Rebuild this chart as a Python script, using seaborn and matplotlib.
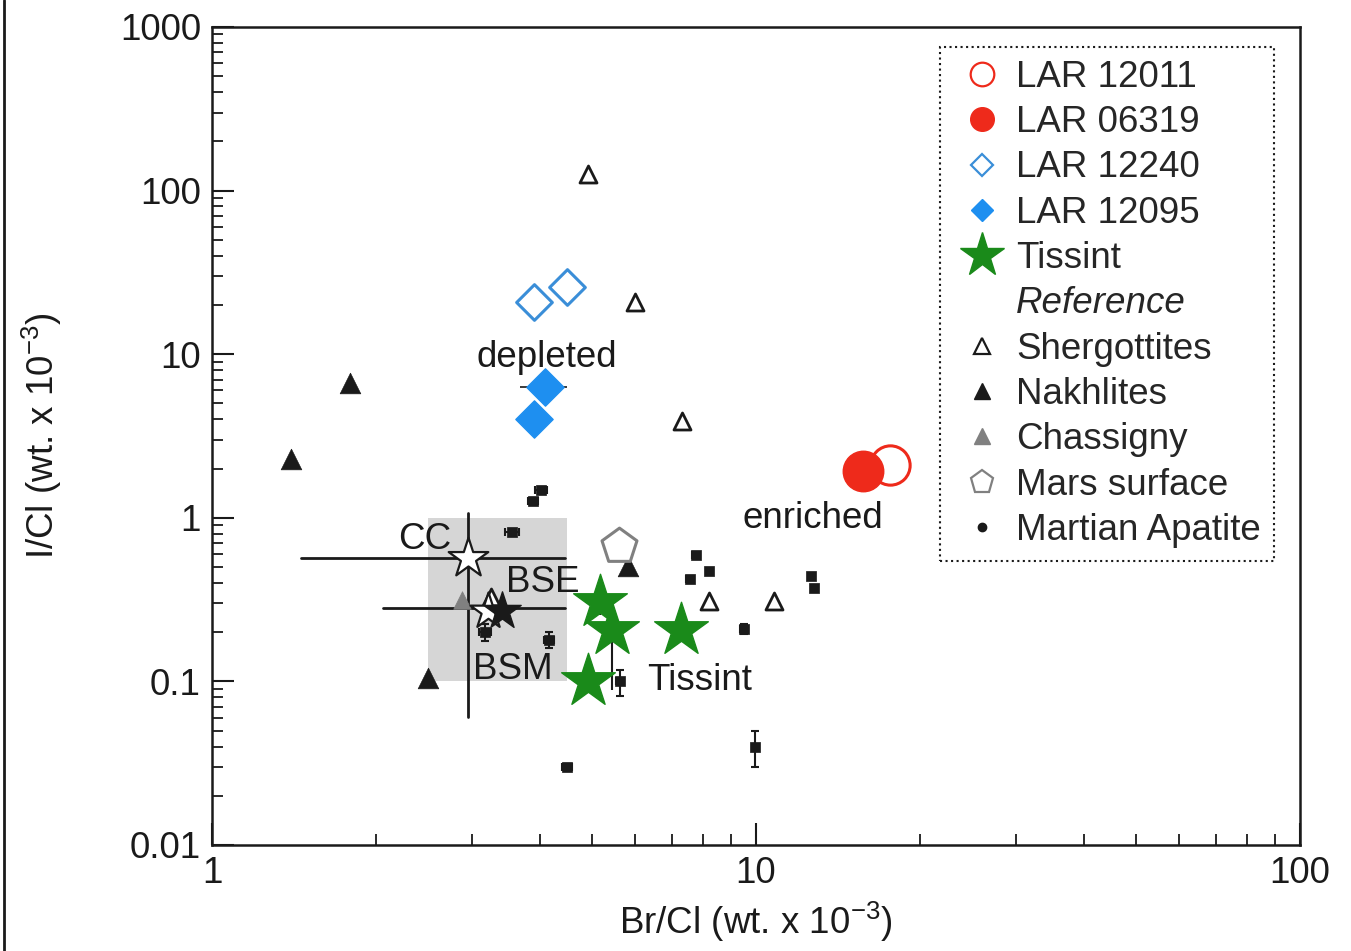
import numpy as np
import pandas as pd
import matplotlib
matplotlib.use("Agg")
import matplotlib.pyplot as plt
from matplotlib.lines import Line2D
from matplotlib.patches import Rectangle
from matplotlib import ticker
import seaborn as sns

# ---- data: Br/Cl and I/Cl (wt. x 10^-3) ----
lar12011_br = [17.6]
lar12011_i = [2.10]

lar06319_br = [15.7]
lar06319_i = [1.93]
lar06319_br_err = [1.2]

lar12240_br = [3.91, 4.49]
lar12240_i = [20.8, 25.7]
lar12240_br_err = [0.0, 0.33]

lar12095_br = [4.09, 3.91]
lar12095_i = [6.30, 4.02]
lar12095_br_err = [0.40, 0.0]

tissint_br = [5.17, 5.44, 7.28, 4.91]
tissint_i = [0.305, 0.206, 0.206, 0.100]
tissint_i_err_lo = [0.05, 0.117, 0.0, 0.0]
tissint_i_err_hi = [0.0, 0.05, 0.0, 0.0]

shergottite_br = [4.91, 5.99, 7.31, 8.20, 10.8, 3.26]
shergottite_i = [126.0, 20.8, 3.9, 0.31, 0.31, 0.33]

nakhlite_br = [1.79, 1.40, 5.82, 2.49]
nakhlite_i = [6.67, 2.29, 0.507, 0.105]

chassigny_br = [2.88]
chassigny_i = [0.314]

mars_surface_br = [5.60]
mars_surface_i = [0.672]

apatite_br = [4.02, 3.89, 3.56, 7.76, 8.20, 7.56, 12.6, 12.8, 9.5, 3.18, 4.16, 5.62, 4.49, 9.96]
apatite_i = [1.48, 1.27, 0.82, 0.59, 0.47, 0.42, 0.44, 0.37, 0.21, 0.20, 0.18, 0.10, 0.030, 0.040]
apatite_br_err = [0.10, 0.08, 0.10, 0.12, 0.12, 0.12, 0.15, 0.15, 0.15, 0.08, 0.09, 0.10, 0.10, 0.12]
apatite_i_err = [0.04, 0.03, 0.02, 0.02, 0.02, 0.02, 0.02, 0.02, 0.015, 0.024, 0.02, 0.018, 0.0012, 0.010]

# chondrite (CC), bulk silicate Earth (BSE), bulk silicate Mars (BSM)
cc_br, cc_i = [2.955], [0.567]
cc_br_range = [1.46, 4.46]
cc_i_range = [0.0605, 1.07]
bse_br, bse_i = [3.22], [0.27]
bsm_br, bsm_i = [3.41], [0.27]
bse_br_range = [2.06, 4.46]

# bulk silicate Mars field
bsm_box_br = [2.5, 4.5]
bsm_box_i = [0.1, 1.0]

# ---- styling ----
sns.set_theme(style="ticks")
plt.rcParams["font.family"] = ["Liberation Sans", "DejaVu Sans"]
plt.rcParams["mathtext.fontset"] = "custom"
plt.rcParams["mathtext.rm"] = "Liberation Sans"

RED = "#ee2a1b"
BLUE_FILL = "#1e8ff0"
BLUE_EDGE = "#3a8ed8"
GREEN = "#1a8a1a"
GRAY = "#808080"
FS = 26.5

fig = plt.figure(figsize=(13.51, 9.51), dpi=100)
ax = fig.add_axes([212 / 1351, 1 - 845 / 951, 1088 / 1351, 818 / 951])
ax.set_xscale("log")
ax.set_yscale("log")
ax.set_xlim(1, 100)
ax.set_ylim(0.01, 1000)

# bulk silicate Mars range
ax.add_patch(Rectangle((bsm_box_br[0], bsm_box_i[0]),
                       bsm_box_br[1] - bsm_box_br[0], bsm_box_i[1] - bsm_box_i[0],
                       facecolor="#d6d6d6", edgecolor="none", zorder=0))

# CC and BSE error ranges
ax.plot(cc_br_range, [cc_i[0]] * 2, color="k", lw=2, zorder=2)
ax.plot([cc_br[0]] * 2, cc_i_range, color="k", lw=2, zorder=2)
ax.plot(bse_br_range, [bse_i[0] + 0.012] * 2, color="k", lw=2, zorder=2)

# martian apatite
ax.errorbar(apatite_br, apatite_i, xerr=apatite_br_err, yerr=apatite_i_err,
            fmt="none", ecolor="k", elinewidth=1.5, capsize=3, capthick=1.5, zorder=3)
sns.scatterplot(x=apatite_br, y=apatite_i, marker="s", s=60, color="k",
                edgecolor="k", linewidth=0.5, ax=ax, legend=False, zorder=4)

# reference meteorites
sns.scatterplot(x=shergottite_br, y=shergottite_i, marker="^", s=150,
                facecolor="white", edgecolor="k", linewidth=2, ax=ax, legend=False, zorder=4)
sns.scatterplot(x=nakhlite_br, y=nakhlite_i, marker="^", s=220, color="k",
                edgecolor="k", linewidth=0.5, ax=ax, legend=False, zorder=4)
sns.scatterplot(x=chassigny_br, y=chassigny_i, marker="^", s=160, color=GRAY,
                edgecolor=GRAY, linewidth=0.5, ax=ax, legend=False, zorder=3)
sns.scatterplot(x=mars_surface_br, y=mars_surface_i, marker="p", s=700,
                facecolor="white", edgecolor=GRAY, linewidth=2.2, ax=ax, legend=False, zorder=4)

# chondrite / BSE / BSM stars
sns.scatterplot(x=cc_br, y=cc_i, marker="*", s=900, facecolor="white",
                edgecolor="k", linewidth=1.6, ax=ax, legend=False, zorder=5)
sns.scatterplot(x=bse_br, y=bse_i, marker="*", s=750, facecolor="white",
                edgecolor="k", linewidth=1.6, ax=ax, legend=False, zorder=5)
sns.scatterplot(x=bsm_br, y=bsm_i, marker="*", s=800, color="k",
                edgecolor="k", linewidth=1, ax=ax, legend=False, zorder=5)

# LAR samples
ax.errorbar(lar06319_br, lar06319_i, xerr=lar06319_br_err, fmt="none",
            ecolor="k", elinewidth=1.2, zorder=5)
sns.scatterplot(x=lar12011_br, y=lar12011_i, marker="o", s=800, facecolor="white",
                edgecolor=RED, linewidth=2.2, ax=ax, legend=False, zorder=6)
sns.scatterplot(x=lar06319_br, y=lar06319_i, marker="o", s=850, color=RED,
                edgecolor=RED, linewidth=1, ax=ax, legend=False, zorder=7)
ax.errorbar(lar12240_br, lar12240_i, xerr=lar12240_br_err, fmt="none",
            ecolor="k", elinewidth=1.2, zorder=5)
sns.scatterplot(x=lar12240_br, y=lar12240_i, marker="D", s=330, facecolor="white",
                edgecolor=BLUE_EDGE, linewidth=2.2, ax=ax, legend=False, zorder=6)
ax.errorbar(lar12095_br, lar12095_i, xerr=lar12095_br_err, fmt="none",
            ecolor="k", elinewidth=1.2, zorder=5)
sns.scatterplot(x=lar12095_br, y=lar12095_i, marker="D", s=360, color=BLUE_FILL,
                edgecolor=BLUE_FILL, linewidth=1, ax=ax, legend=False, zorder=6)

# Tissint
ax.errorbar(tissint_br, tissint_i, yerr=[tissint_i_err_lo, tissint_i_err_hi],
            fmt="none", ecolor="k", elinewidth=1.5, zorder=5)
sns.scatterplot(x=tissint_br, y=tissint_i, marker="*", s=1650, color=GREEN,
                edgecolor=GREEN, linewidth=1, ax=ax, legend=False, zorder=6)

# annotations
txt = dict(fontsize=FS, color="k", zorder=8)
ax.text(2.46, 0.74, "CC", ha="center", va="center", **txt)
ax.text(4.06, 0.40, "BSE", ha="center", va="center", **txt)
ax.text(3.58, 0.119, "BSM", ha="center", va="center", **txt)
ax.text(4.13, 9.5, "depleted", ha="center", va="center", **txt)
ax.text(12.7, 0.99, "enriched", ha="center", va="center", **txt)
ax.text(7.89, 0.101, "Tissint", ha="center", va="center", **txt)

# axes formatting
fmt = ticker.FuncFormatter(lambda v, p: f"{v:g}")
ax.xaxis.set_major_locator(ticker.LogLocator(base=10, numticks=10))
ax.xaxis.set_minor_locator(ticker.LogLocator(base=10, subs=np.arange(2, 10), numticks=20))
ax.yaxis.set_major_locator(ticker.LogLocator(base=10, numticks=10))
ax.yaxis.set_minor_locator(ticker.LogLocator(base=10, subs=np.arange(2, 10), numticks=20))
ax.xaxis.set_major_formatter(fmt)
ax.yaxis.set_major_formatter(fmt)
ax.xaxis.set_minor_formatter(ticker.NullFormatter())
ax.yaxis.set_minor_formatter(ticker.NullFormatter())
ax.tick_params(axis="both", which="major", direction="in", length=16, width=1.5,
               labelsize=FS, pad=8, color="k", labelcolor="k")
ax.tick_params(axis="both", which="minor", direction="in", length=8, width=1.3, color="k")
ax.tick_params(top=False, right=False, which="both")
for sp in ax.spines.values():
    sp.set_linewidth(1.8)
    sp.set_color("k")

ax.set_xlabel(r"Br/Cl (wt. x 10$^{-3}$)", fontsize=FS, labelpad=6, color="k")
ax.set_ylabel(r"I/Cl (wt. x 10$^{-3}$)", fontsize=FS, labelpad=40, color="k")

# legend
handles = [
    Line2D([], [], ls="none", marker="o", ms=17, mfc="none", mec=RED, mew=1.6, label="LAR 12011"),
    Line2D([], [], ls="none", marker="o", ms=17, mfc=RED, mec=RED, label="LAR 06319"),
    Line2D([], [], ls="none", marker="D", ms=11, mfc="none", mec=BLUE_EDGE, mew=1.6, label="LAR 12240"),
    Line2D([], [], ls="none", marker="D", ms=11, mfc=BLUE_FILL, mec=BLUE_FILL, label="LAR 12095"),
    Line2D([], [], ls="none", marker="*", ms=33, mfc=GREEN, mec=GREEN, label="Tissint"),
    Line2D([], [], ls="none", marker=None, label="Reference"),
    Line2D([], [], ls="none", marker="^", ms=11, mfc="white", mec="k", mew=1.6, label="Shergottites"),
    Line2D([], [], ls="none", marker="^", ms=11, mfc="k", mec="k", label="Nakhlites"),
    Line2D([], [], ls="none", marker="^", ms=11, mfc=GRAY, mec=GRAY, label="Chassigny"),
    Line2D([], [], ls="none", marker="p", ms=17, mfc="white", mec=GRAY, mew=1.6, label="Mars surface"),
    Line2D([], [], ls="none", marker="o", ms=6, mfc="k", mec="k", label="Martian Apatite"),
]
leg = ax.legend(handles=handles, loc="upper left", bbox_to_anchor=(0.669, 0.9756),
                borderaxespad=0, fontsize=FS, frameon=True, fancybox=False,
                labelspacing=0.28, handlelength=1.6, handletextpad=0.12,
                borderpad=0.35, framealpha=1)
frame = leg.get_frame()
frame.set_linestyle(":")
frame.set_linewidth(1.5)
frame.set_edgecolor("k")
leg.get_texts()[5].set_fontstyle("italic")

# left border of the figure
fig.add_artist(Line2D([0.003, 0.003], [0, 1], transform=fig.transFigure, color="k", lw=2))

fig.savefig("out.png", dpi=100, facecolor="white")
